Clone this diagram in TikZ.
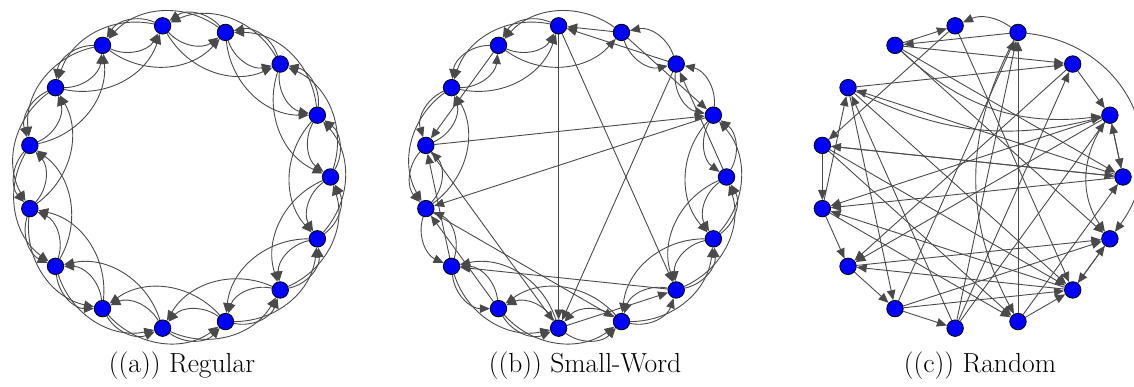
\documentclass[tikz,border=0pt]{standalone}
\usetikzlibrary{arrows.meta,backgrounds}
\definecolor{edgec}{HTML}{4A4A4A}
\tikzset{
  vert/.style={circle,fill=blue,draw=black,line width=0.8pt,minimum size=16.5pt,inner sep=0pt},
  edge/.style={draw=edgec,line width=0.9pt,-{Triangle[length=10pt,width=8.5pt]}},
  captxt/.style={font=\fontsize{27.6}{33}\selectfont,anchor=center}
}
\begin{document}
\begin{tikzpicture}[x=1pt,y=-1pt]
\useasboundingbox (0,0) rectangle (1134,387);
% nodes
\foreach \g/\cx in {a/178.5,b/574.5,c/971}{
  \foreach \k in {0,...,14}{
    \node[vert] (\g\k) at ({\cx+152*cos(24*\k)},{177-152*sin(24*\k)}) {};
  }
}
\begin{pgfonlayer}{background}
% (a) regular ring lattice
\foreach \k in {0,...,14}{
  \pgfmathtruncatemacro\p{mod(\k+1,15)}
  \pgfmathtruncatemacro\q{mod(\k+2,15)}
  \pgfmathtruncatemacro\m{mod(\k+14,15)}
  \pgfmathtruncatemacro\n{mod(\k+13,15)}
  \foreach \t in {\p,\q,\m,\n}{
    \draw[edge] (a\k) to[bend right=42] (a\t);
  }
}
% (b) small world
\foreach \s/\t in {0/1,0/14,0/13,1/2,1/0,1/14,2/3,2/1,3/5,3/2,4/5,4/6,5/6,5/4,5/3,6/7,6/8,6/5,6/4,7/8,7/6,8/9,8/7,8/6,9/10,9/11,9/8,10/11,10/12,10/9,11/12,11/10,11/9,12/13,12/14,12/11,12/10,13/14,13/0,13/12,14/0,14/1,14/13,14/12}{
  \draw[edge] (b\s) to[bend right=42] (b\t);
}
\foreach \s/\t in {0/2,2/4,3/4,3/1,5/7,9/7,10/8,11/13,4/13,4/11,2/11,7/1,1/8,7/11,13/9,8/12}{
  \draw[edge] (b\s) -- (b\t);
}
% (c) random
\foreach \s/\t in {5/4,3/5,5/2,6/2,0/6,8/6,11/6,0/7,4/7,7/8,0/8,1/8,13/8,8/9,2/9,1/9,13/9,9/10,6/10,10/11,10/13,10/14,10/3,11/3,11/2,11/1,12/3,12/13,8/12,4/13,14/13,13/14,6/13,5/14,7/0,5/0,2/1,1/0,0/1,9/14,7/12,12/0,7/13}{
  \draw[edge] (c\s) -- (c\t);
}
\draw[edge] (c3) to[bend right=30] (c4);
\draw[edge] (c3) to[bend left=60,looseness=1.2] (c14);
\draw[edge] (c5) to[bend right=25] (c1);
\draw[edge] (c1) to[bend right=35] (c14);
\draw[edge] (c3) to[bend right=28] (c12);
\draw[edge] (c6) to[bend right=20] (c1);
\end{pgfonlayer}
% captions
\node[captxt] (capa) at (182,366) {((a)) Regular};
\node[captxt] (capb) at (585,366) {((b)) Small-Word};
\node[captxt] (capc) at (980,366) {((c)) Random};
\end{tikzpicture}
\end{document}
